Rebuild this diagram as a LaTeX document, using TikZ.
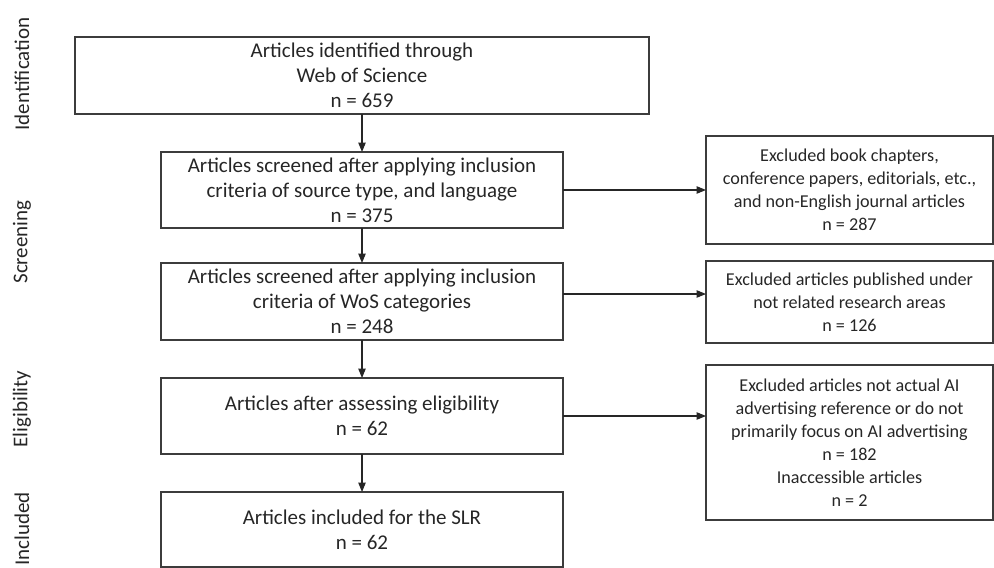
\documentclass[tikz,border=0pt]{standalone}
\usepackage{fontspec}
\setmainfont{Carlito}
\usetikzlibrary{arrows.meta,calc}
\definecolor{ink}{HTML}{262626}
\definecolor{frame}{HTML}{3C3C3C}
\begin{document}
\begin{tikzpicture}[x=0.75pt,y=-0.75pt,
  every node/.style={text=ink},
  mainbox/.style={draw=frame,line width=1.3pt,rectangle,inner sep=0pt,outer sep=0pt,
    align=center,font=\fontsize{15.75}{18.75}\selectfont},
  sidebox/.style={draw=frame,line width=1.3pt,rectangle,inner sep=0pt,outer sep=0pt,
    align=center,font=\fontsize{13.6}{17.25}\selectfont,
    minimum width=215.25pt},
  phase/.style={rotate=90,font=\fontsize{15.75}{18.75}\selectfont,inner sep=0pt},
  arr/.style={draw=ink,line width=0.8pt,-{Triangle[length=7pt,width=5.5pt]}}]
\useasboundingbox (0,0) rectangle (994,567);

% phase labels
\node[phase] (pid) at (22,74) {Identification};
\node[phase] (psc) at (22,242) {Screening};
\node[phase] (pel) at (22,409) {Eligibility};
\node[phase] (pin) at (22,529) {Included};

% main column
\node[mainbox,minimum width=430.5pt,minimum height=57.75pt] (b1) at (362,75.5)
  {Articles identified through\\Web of Science\\n = 659};
\node[mainbox,minimum width=301.5pt,minimum height=57pt] (b2) at (362,190)
  {Articles screened after applying inclusion\\criteria of source type, and language\\n = 375};
\node[mainbox,minimum width=301.5pt,minimum height=57.75pt] (b3) at (362,301.5)
  {Articles screened after applying inclusion\\criteria of WoS categories\\n = 248};
\node[mainbox,minimum width=301.5pt,minimum height=57pt] (b4) at (362,416)
  {Articles after assessing eligibility\\n = 62};
\node[mainbox,minimum width=301.5pt,minimum height=56.25pt] (b5) at (362,529.5)
  {Articles included for the SLR\\n = 62};

% exclusion column
\node[sidebox,minimum height=81pt] (r1) at (849.5,190)
  {Excluded book chapters,\\conference papers, editorials, etc.,\\and non-English journal articles\\n = 287};
\node[sidebox,minimum height=61.5pt] (r2) at (849.5,302)
  {Excluded articles published under\\not related research areas\\n = 126};
\node[sidebox,minimum height=116.25pt] (r3) at (849.5,442.5)
  {Excluded articles not actual AI\\advertising reference or do not\\primarily focus on AI advertising\\n = 182\\Inaccessible articles\\n = 2};

% flow
\draw[arr] (b1) -- (b2);
\draw[arr] (b2) -- (b3);
\draw[arr] (b3) -- (b4);
\draw[arr] (b4) -- (b5);

\draw[arr] (b2) -- (r1);
\coordinate (m3) at ([yshift=5.625pt]b3.east);
\draw[arr] (m3) -- (m3 -| r2.west);
\draw[arr] (b4.east) -- (b4.east -| r3.west);
\end{tikzpicture}
\end{document}
